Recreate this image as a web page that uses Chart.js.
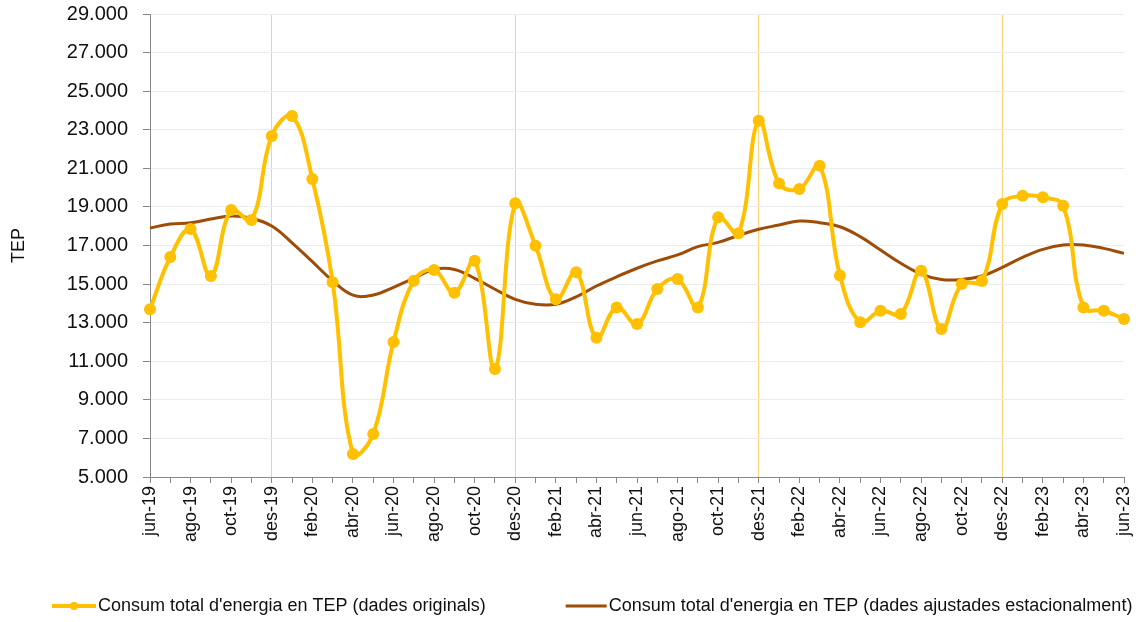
<!DOCTYPE html>
<html lang="ca">
<head>
  <meta charset="UTF-8">
  <title>Consum total d'energia en TEP</title>
  <script src="https://cdn.jsdelivr.net/npm/chart.js"></script>
  <style>
    body { margin: 0; background: #fff; font-family: "Liberation Sans", Arial, sans-serif; }
    #wrap { width: 1144px; height: 622px; position: relative; }
  </style>
</head>
<body>
  <div id="wrap"><canvas id="chart"></canvas></div>

  <script>
    const months = [
      'jun-19','jul-19','ago-19','set-19','oct-19','nov-19','des-19','gen-20','feb-20','mar-20',
      'abr-20','mai-20','jun-20','jul-20','ago-20','set-20','oct-20','nov-20','des-20','gen-21',
      'feb-21','mar-21','abr-21','mai-21','jun-21','jul-21','ago-21','set-21','oct-21','nov-21',
      'des-21','gen-22','feb-22','mar-22','abr-22','mai-22','jun-22','jul-22','ago-22','set-22',
      'oct-22','nov-22','des-22','gen-23','feb-23','mar-23','abr-23','mai-23','jun-23'
    ];

    const original = [
      13700, 16400, 17850, 15420, 18840, 18320, 22680, 23710, 20450, 15100,
      6190, 7230, 12000, 15170, 15730, 14550, 16210, 10600, 19190, 16990,
      14210, 15610, 12220, 13790, 12930, 14740, 15260, 13790, 18460, 17630,
      23470, 20220, 19930, 21140, 15450, 13020, 13620, 13450, 15690, 12670,
      15000, 15160, 19150, 19580, 19500, 19060, 13790, 13620, 13190
    ];

    const adjusted = [
      17910, 18110, 18180, 18370, 18530, 18410, 18010, 17140, 16160, 15170,
      14430, 14430, 14830, 15300, 15760, 15760, 15300, 14730, 14210, 13950,
      13950, 14340, 14900, 15380, 15820, 16200, 16510, 16940, 17160, 17520,
      17840, 18060, 18270, 18180, 17970, 17460, 16770, 16080, 15520, 15240,
      15240, 15420, 15870, 16390, 16800, 17030, 17030, 16850, 16590
    ];

    const seriesNames = [
      "Consum total d'energia en TEP (dades originals)",
      "Consum total d'energia en TEP (dades ajustades estacionalment)"
    ];

    const yMin = 5000, yMax = 29000, yStep = 2000;
    const yTitle = 'TEP';

    const ORANGE = '#ffc000';
    const BROWN = '#9e4d08';
    const FONT = '"Liberation Sans", Arial, sans-serif';

    function fmt(v) {
      return String(v).replace(/\B(?=(\d{3})+(?!\d))/g, '.');
    }

    // legend drawn by hand so the spacing can match the original
    const bottomLegend = {
      id: 'bottomLegend',
      afterDraw(chart) {
        const ctx = chart.ctx;
        const y = 606;
        ctx.save();
        ctx.font = '18px ' + FONT;
        ctx.textBaseline = 'middle';
        ctx.fillStyle = '#111';

        let x = 52;
        ctx.strokeStyle = ORANGE;
        ctx.lineWidth = 4;
        ctx.beginPath(); ctx.moveTo(x, y); ctx.lineTo(x + 44, y); ctx.stroke();
        ctx.fillStyle = ORANGE;
        ctx.beginPath(); ctx.arc(x + 22, y, 4, 0, Math.PI * 2); ctx.fill();
        ctx.fillStyle = '#111';
        ctx.fillText(seriesNames[0], x + 46, y);
        x += 46 + ctx.measureText(seriesNames[0]).width + 80;

        ctx.strokeStyle = BROWN;
        ctx.lineWidth = 3;
        ctx.beginPath(); ctx.moveTo(x, y); ctx.lineTo(x + 41, y); ctx.stroke();
        ctx.fillText(seriesNames[1], x + 43, y);
        ctx.restore();
      }
    };

    new Chart(document.getElementById('chart'), {
      type: 'line',
      data: {
        labels: months,
        datasets: [
          {
            label: seriesNames[0],
            data: original,
            borderColor: ORANGE,
            backgroundColor: ORANGE,
            borderWidth: 4,
            pointRadius: 6,
            pointBorderWidth: 0,
            tension: 0.4
          },
          {
            label: seriesNames[1],
            data: adjusted,
            borderColor: BROWN,
            backgroundColor: BROWN,
            borderWidth: 3,
            pointRadius: 0,
            tension: 0.4
          }
        ]
      },
      options: {
        responsive: true,
        maintainAspectRatio: false,
        animation: false,
        layout: { padding: { left: 0, right: 20, top: 14, bottom: 60 } },
        plugins: {
          legend: { display: false },
          tooltip: { enabled: false }
        },
        scales: {
          x: {
            afterFit: s => { s.height = 85; s.paddingLeft = 0; s.paddingRight = 0; },
            border: { color: '#888', width: 1 },
            grid: {
              color: c => (months[c.index] || '').startsWith('des') ? '#ffd27a' : 'rgba(0,0,0,0)',
              tickColor: '#888',
              tickLength: 6,
              lineWidth: 1
            },
            ticks: {
              autoSkip: false,
              maxRotation: 90,
              minRotation: 90,
              padding: 3,
              color: '#111',
              font: { family: FONT, size: 18 },
              callback: (v, i) => i % 2 === 0 ? months[i] : ''
            }
          },
          y: {
            min: yMin,
            max: yMax,
            afterFit: s => { s.width = 150; s.paddingTop = 0; s.paddingBottom = 0; },
            border: { color: '#888', width: 1 },
            grid: {
              color: '#ececec',
              tickColor: '#888',
              tickLength: 7,
              lineWidth: 1
            },
            ticks: {
              stepSize: yStep,
              padding: 15,
              color: '#111',
              font: { family: FONT, size: 20 },
              callback: v => fmt(v)
            },
            title: {
              display: true,
              text: yTitle,
              color: '#111',
              font: { family: FONT, size: 18 },
              padding: { top: 8, bottom: 0 }
            }
          }
        }
      },
      plugins: [bottomLegend]
    });
  </script>
</body>
</html>
